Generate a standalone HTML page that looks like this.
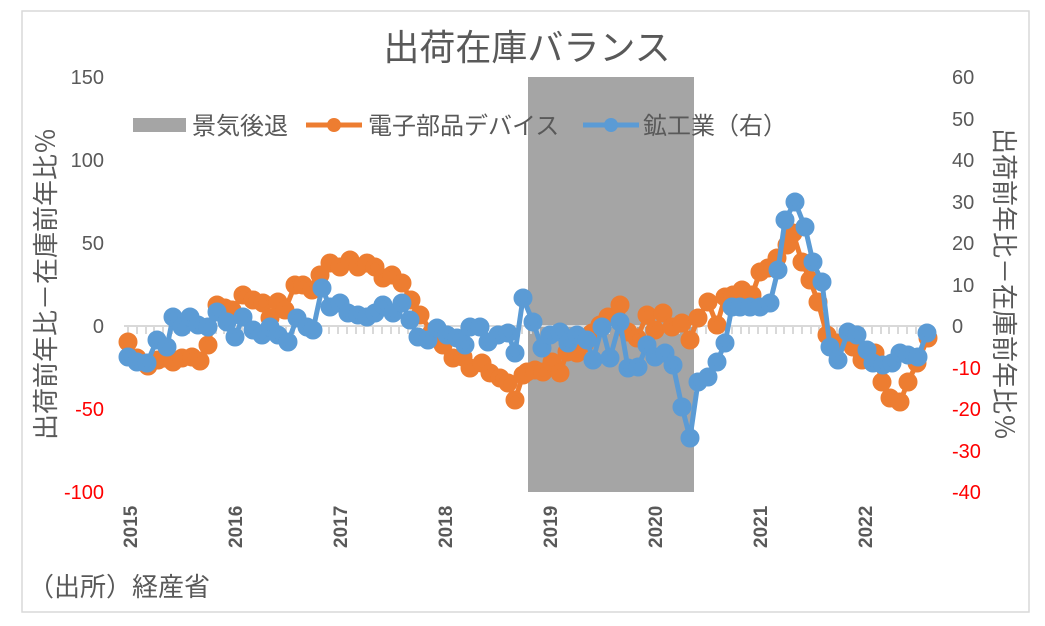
<!DOCTYPE html>
<html><head><meta charset="utf-8"><style>
body{margin:0;background:#fff}
svg{display:block;font-family:"Liberation Sans","Noto Sans CJK JP",sans-serif}
</style></head><body>
<svg width="1045" height="626" viewBox="0 0 1045 626">
<rect x="0" y="0" width="1045" height="626" fill="#fff"/>
<rect x="22" y="11" width="1007" height="601" fill="#fff" stroke="#d9d9d9" stroke-width="1.5"/>
<rect x="528" y="77" width="166" height="415" fill="#a5a5a5"/>
<text x="527" y="60" font-size="36" fill="#595959" text-anchor="middle">出荷在庫バランス</text>
<g font-size="20" fill="#595959" text-anchor="end">
<text x="104" y="84">150</text><text x="104" y="167">100</text><text x="104" y="250">50</text><text x="104" y="333">0</text>
<text x="104" y="416" fill="#ff0000">-50</text><text x="104" y="499" fill="#ff0000">-100</text>
</g>
<g font-size="20" fill="#595959" text-anchor="start">
<text x="952" y="84">60</text><text x="952" y="126">50</text><text x="952" y="167">40</text><text x="952" y="209">30</text><text x="952" y="250">20</text><text x="952" y="292">10</text><text x="952" y="333">0</text>
<text x="952" y="375" fill="#ff0000">-10</text><text x="952" y="416" fill="#ff0000">-20</text><text x="952" y="458" fill="#ff0000">-30</text><text x="952" y="499" fill="#ff0000">-40</text>
</g>
<text transform="translate(55,284) rotate(-90)" font-size="26" fill="#595959" text-anchor="middle">出荷前年比－在庫前年比％</text>
<text transform="translate(995,284) rotate(90)" font-size="26" fill="#595959" text-anchor="middle">出荷前年比－在庫前年比％</text>
<g stroke="#d9d9d9" stroke-width="2">
<line x1="124" y1="326" x2="932" y2="326"/>
<path d="M128 326v8M137 326v8M146 326v8M154 326v8M163 326v8M172 326v8M181 326v8M189 326v8M198 326v8M207 326v8M216 326v8M224 326v8M233 326v8M242 326v8M251 326v8M259 326v8M268 326v8M277 326v8M286 326v8M294 326v8M303 326v8M312 326v8M321 326v8M329 326v8M338 326v8M347 326v8M356 326v8M364 326v8M373 326v8M382 326v8M391 326v8M399 326v8M408 326v8M417 326v8M426 326v8M434 326v8M443 326v8M452 326v8M461 326v8M469 326v8M478 326v8M487 326v8M496 326v8M504 326v8M513 326v8M522 326v8M531 326v8M539 326v8M548 326v8M557 326v8M566 326v8M574 326v8M583 326v8M592 326v8M601 326v8M609 326v8M618 326v8M627 326v8M636 326v8M644 326v8M653 326v8M662 326v8M671 326v8M679 326v8M688 326v8M697 326v8M706 326v8M714 326v8M723 326v8M732 326v8M741 326v8M749 326v8M758 326v8M767 326v8M776 326v8M784 326v8M793 326v8M802 326v8M811 326v8M819 326v8M828 326v8M837 326v8M846 326v8M854 326v8M863 326v8M872 326v8M881 326v8M889 326v8M898 326v8M907 326v8M916 326v8M924 326v8"/>
</g>
<g font-size="19" fill="#595959" font-weight="bold">
<text transform="translate(137,548) rotate(-90)">2015</text>
<text transform="translate(242,548) rotate(-90)">2016</text>
<text transform="translate(347,548) rotate(-90)">2017</text>
<text transform="translate(452,548) rotate(-90)">2018</text>
<text transform="translate(557,548) rotate(-90)">2019</text>
<text transform="translate(662,548) rotate(-90)">2020</text>
<text transform="translate(767,548) rotate(-90)">2021</text>
<text transform="translate(872,548) rotate(-90)">2022</text>
</g>
<text x="28" y="596" font-size="26" fill="#595959">（出所）経産省</text>
<g fill="none" stroke="#ed7d31" stroke-width="5" stroke-linejoin="round">
<polyline points="128,342 137,358 148,366 158,360 165,358 173,362 182,358 192,357 200,361 208,345 217,305 225,308 232,310 243,295 253,300 263,303 270,318 278,302 285,310 295,285 303,285 312,290 320,275 330,263 340,267 350,260 358,267 367,263 375,267 383,278 392,275 402,283 411,300 420,315 432,332 443,345 453,358 463,357 470,368 482,363 490,373 500,378 508,383 515,400 523,375 527,372 535,370 543,372 552,362 560,373 567,352 577,353 585,343 592,333 600,325 608,317 620,305 628,332 637,338 647,315 655,330 663,313 672,327 682,323 690,340 698,318 708,302 717,325 725,297 733,295 742,290 752,295 760,272 768,268 777,258 787,245 793,233 802,262 810,280 818,302 827,335 837,343 847,340 853,347 862,360 875,353 882,382 890,398 900,402 908,382 917,363 928,338"/>
</g>
<g fill="none" stroke="#5b9bd5" stroke-width="5" stroke-linejoin="round">
<polyline points="128,357 137,362 147,363 157,340 167,347 173,317 182,327 190,317 198,325 208,327 217,312 227,322 235,337 243,317 253,330 262,335 270,327 278,335 288,342 297,318 307,327 313,330 322,288 330,307 340,303 348,313 358,315 367,317 375,313 383,305 393,313 402,303 410,320 418,337 428,340 437,328 447,335 457,338 465,345 470,327 480,327 488,342 498,335 508,333 515,353 523,298 533,322 542,348 550,335 560,332 568,343 577,335 587,340 593,360 602,327 610,358 620,322 628,368 638,367 647,345 655,357 665,353 673,365 682,407 690,438 698,382 708,377 717,362 725,343 732,307 740,307 750,307 760,307 770,303 778,270 785,220 795,202 805,227 813,262 822,282 830,347 838,360 848,332 857,335 867,350 873,363 883,365 892,363 900,353 908,355 918,357 927,333"/>
</g>
<rect x="133" y="118" width="53" height="14" fill="#a5a5a5"/>
<text x="192" y="134" font-size="24" fill="#595959">景気後退</text>
<line x1="306" y1="125" x2="362" y2="125" stroke="#ed7d31" stroke-width="5"/>
<circle cx="334" cy="125" r="7" fill="#ed7d31"/>
<text x="368" y="134" font-size="24" fill="#595959">電子部品デバイス</text>
<line x1="583" y1="125" x2="639" y2="125" stroke="#5b9bd5" stroke-width="5"/>
<circle cx="611" cy="125" r="7" fill="#5b9bd5"/>
<text x="643" y="134" font-size="24" fill="#595959">鉱工業（右）</text>
</svg>
<script>
(function(){
var ns="http://www.w3.org/2000/svg";
document.querySelectorAll("polyline").forEach(function(p){
var c=p.parentNode.getAttribute("stroke");
p.getAttribute("points").trim().split(/\s+/).forEach(function(s){
var a=s.split(",");var e=document.createElementNS(ns,"circle");
e.setAttribute("cx",a[0]);e.setAttribute("cy",a[1]);e.setAttribute("r","7");e.setAttribute("fill",c);
p.parentNode.appendChild(e);});
});
})();
</script>
</body></html>
